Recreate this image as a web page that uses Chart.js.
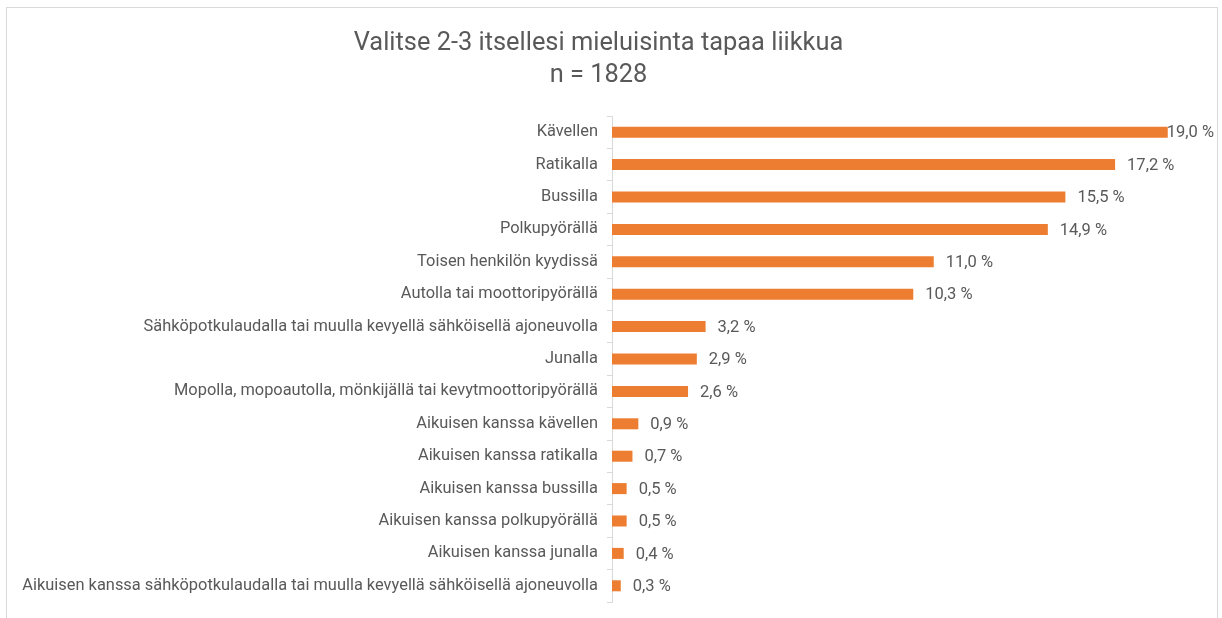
<!DOCTYPE html>
<html>
<head>
<meta charset="utf-8">
<script src="https://cdn.jsdelivr.net/npm/chart.js@4.4.1/dist/chart.umd.min.js"></script>
<style>
  body { margin: 0; background: #fff; }
  #frame { position: absolute; left: 6px; top: 7px; width: 1212px; height: 620px; border: 1px solid #d9d9d9; box-sizing: border-box; }
  #wrap { position: absolute; left: 0; top: 0; width: 1222px; height: 618px; }
</style>
</head>
<body>
<div id="frame"></div>
<div id="wrap"><canvas id="liikkuaChart" width="1222" height="618"></canvas></div>
<script>
var categories = [
  "Kävellen",
  "Ratikalla",
  "Bussilla",
  "Polkupyörällä",
  "Toisen henkilön kyydissä",
  "Autolla tai moottoripyörällä",
  "Sähköpotkulaudalla tai muulla kevyellä sähköisellä ajoneuvolla",
  "Junalla",
  "Mopolla, mopoautolla, mönkijällä tai kevytmoottoripyörällä",
  "Aikuisen kanssa kävellen",
  "Aikuisen kanssa ratikalla",
  "Aikuisen kanssa bussilla",
  "Aikuisen kanssa polkupyörällä",
  "Aikuisen kanssa junalla",
  "Aikuisen kanssa sähköpotkulaudalla tai muulla kevyellä sähköisellä ajoneuvolla"
]
var percents = [19.0, 17.2, 15.5, 14.9, 11.0, 10.3, 3.2, 2.9, 2.6, 0.9, 0.7, 0.5, 0.5, 0.4, 0.3]
var titleLines = ["Valitse 2-3 itsellesi mieluisinta tapaa liikkua", "n = 1828"]

var fontFamily = "Roboto, 'Liberation Sans', sans-serif"
var textColor = "#595959"

function fmt(v) {
  return v.toFixed(1).replace(".", ",") + " %"
}

// data labels to the right of each bar
var valueLabels = {
  id: "valueLabels",
  afterDatasetsDraw: function(chart) {
    var ctx = chart.ctx
    var meta = chart.getDatasetMeta(0)
    ctx.save()
    ctx.font = "16.5px " + fontFamily
    ctx.fillStyle = textColor
    ctx.textBaseline = "middle"
    ctx.textAlign = "left"
    meta.data.forEach(function(bar, i) {
      var txt = fmt(percents[i])
      var w = ctx.measureText(txt).width
      var x = bar.x + 12
      var limit = chart.width - 8
      if (x + w > limit) x = limit - w
      ctx.fillText(txt, x, bar.y + 1)
    })
    ctx.restore()
  }
}

var ctx = document.getElementById("liikkuaChart").getContext("2d")
var chart = new Chart(ctx, {
  type: "bar",
  data: {
    labels: categories,
    datasets: [{
      data: percents,
      backgroundColor: "#ed7d31",
      barPercentage: 0.34,
      categoryPercentage: 1.0
    }]
  },
  options: {
    indexAxis: "y",
    responsive: false,
    animation: false,
    layout: { padding: { left: 0, right: 25, top: 0, bottom: 16 } },
    plugins: {
      legend: { display: false },
      tooltip: { enabled: false },
      title: {
        display: true,
        text: titleLines,
        color: textColor,
        font: { family: fontFamily, size: 25.4, weight: "normal", lineHeight: 1.26 },
        padding: { top: 28, bottom: 24 }
      }
    },
    scales: {
      x: {
        display: false,
        min: 0,
        max: 20
      },
      y: {
        afterFit: function(scale) {
          scale.width = 612
          scale.paddingTop = 0
          scale.paddingBottom = 0
        },
        grid: {
          drawOnChartArea: false,
          color: "#d9d9d9",
          tickLength: 5
        },
        border: { display: true, color: "#d9d9d9" },
        ticks: {
          color: textColor,
          padding: 9,
          autoSkip: false,
          font: { family: fontFamily, size: 16.4 }
        }
      }
    }
  },
  plugins: [valueLabels]
})
</script>
</body>
</html>
